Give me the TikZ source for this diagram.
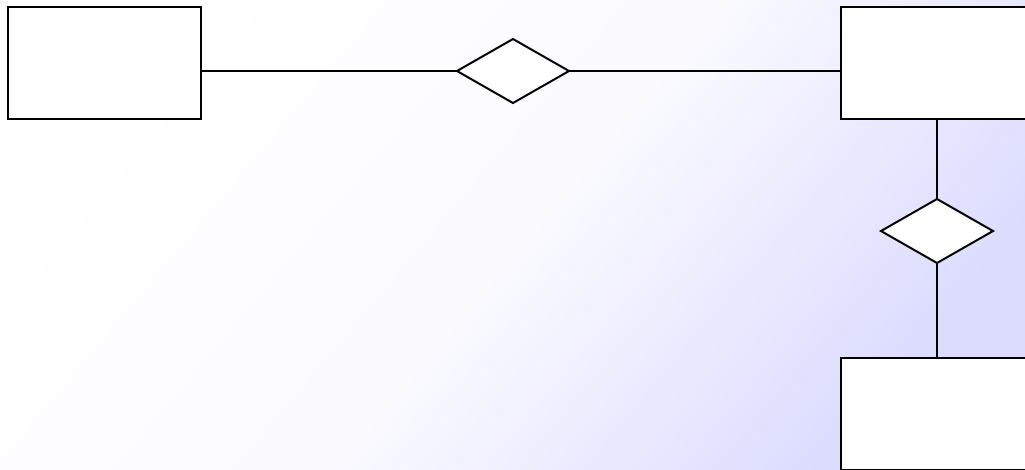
\documentclass[tikz,border=0pt]{standalone}
\usetikzlibrary{shapes.geometric}
\definecolor{bgend}{RGB}{220,220,255}
\begin{document}
\begin{tikzpicture}[x=0.75pt,y=-0.75pt,
  entity/.style={draw=black,fill=white,line width=1.5pt,minimum width=144.75pt,minimum height=84pt,inner sep=0pt,outer sep=0pt},
  relation/.style={diamond,aspect=1.75,draw=black,fill=white,line width=1.5pt,minimum width=84pt,minimum height=48pt,inner sep=0pt,outer sep=0pt},
  link/.style={line width=1.5pt}]
  \useasboundingbox (0,0) rectangle (1025,469);
  \clip (0,0) rectangle (1025,469);
  % background gradient from white (top left) to lavender (bottom right)
  \shade[shading=axis,top color=white,bottom color=bgend,middle color=white!88!bgend,shading angle=50] (0,0) rectangle (1025,469);
  \node[entity] (a) at (104.5,63) {};
  \node[entity] (b) at (937.5,63) {};
  \node[entity] (c) at (937.5,414) {};
  \node[relation] (r1) at (513,71) {};
  \node[relation] (r2) at (937,231) {};
  \draw[link] (a.east |- r1) -- (r1.west);
  \draw[link] (r1.east) -- (b.west |- r1);
  \draw[link] (r2 |- b.south) -- (r2.north);
  \draw[link] (r2.south) -- (r2 |- c.north);
\end{tikzpicture}
\end{document}
